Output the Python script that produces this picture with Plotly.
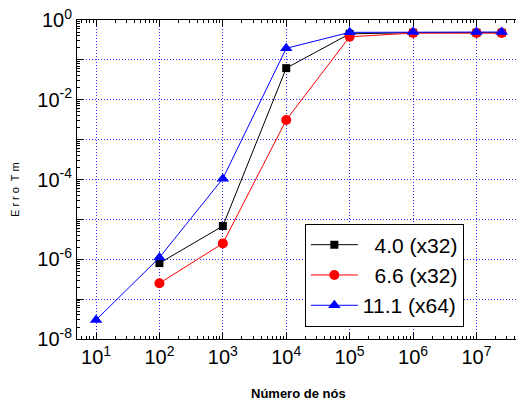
import plotly.graph_objects as go

# Data
nodes_a = [1e2, 1e3, 1e4, 1e5, 1e6, 1e7, 2.5e7]
err_a = [8.0e-7, 6.8e-6, 0.062, 0.45, 0.48, 0.48, 0.48]
nodes_b = [1e2, 1e3, 1e4, 1e5, 1e6, 1e7, 2.5e7]
err_b = [2.5e-7, 2.5e-6, 0.0031, 0.38, 0.47, 0.47, 0.47]
nodes_c = [1e1, 1e2, 1e3, 1e4, 1e5, 1e6, 1e7, 2.5e7]
err_c = [3.0e-8, 1.1e-6, 1.05e-4, 0.195, 0.49, 0.50, 0.50, 0.50]
names = ["\u20074.0 (x32)", "\u20076.6 (x32)", "11.1 (x64)"]

x_tickvals = [1e1, 1e2, 1e3, 1e4, 1e5, 1e6, 1e7]
x_ticktext = ["10<sup>%d</sup>" % k for k in range(1, 8)]
y_tickvals = [10.0 ** -k for k in range(0, 9)]
y_ticktext = [("10<sup>-%d</sup>" % k if k > 0 else "10<sup>0</sup>") if k % 2 == 0 else "" for k in range(0, 9)]

fig = go.Figure()
fig.add_trace(go.Scatter(x=nodes_a, y=err_a, name=names[0], mode="lines+markers",
                         line=dict(color="black", width=1),
                         marker=dict(symbol="square", size=8, color="black")))
fig.add_trace(go.Scatter(x=nodes_b, y=err_b, name=names[1], mode="lines+markers",
                         line=dict(color="#ff0000", width=1),
                         marker=dict(symbol="circle", size=10, color="#ff0000")))
fig.add_trace(go.Scatter(x=nodes_c, y=err_c, name=names[2], mode="lines+markers",
                         line=dict(color="#0000ff", width=1),
                         marker=dict(symbol="triangle-up", size=11, color="#0000ff")))

grid_color = "#2a2aff"
grid_dash = "1px,2px"
fig.update_layout(
    width=516, height=403, autosize=False,
    margin=dict(l=77, r=0, t=20, b=64),
    paper_bgcolor="white", plot_bgcolor="white",
    font=dict(family="Liberation Sans, Arial, sans-serif", color="black"),
    showlegend=True,
    legend=dict(x=0.519, y=0.362, xanchor="left", yanchor="top",
                bordercolor="black", borderwidth=1, bgcolor="white",
                itemwidth=47,
                font=dict(size=21, color="black"), tracegroupgap=0),
    xaxis=dict(type="log", range=[0.7, 7.624], tickmode="array",
               tickvals=x_tickvals, ticktext=x_ticktext, automargin=False,
               tickfont=dict(size=20), ticks="inside", ticklen=6, tickcolor="black",
               showline=True, linecolor="black", linewidth=1, mirror="ticks",
               showgrid=True, gridcolor=grid_color, griddash=grid_dash, gridwidth=1,
               zeroline=False,
               minor=dict(ticks="inside", ticklen=3, tickcolor="black", dtick="D1", showgrid=False)),
    yaxis=dict(type="log", range=[-8, 0], tickmode="array",
               tickvals=y_tickvals, ticktext=y_ticktext, automargin=False,
               tickfont=dict(size=20), ticks="inside", ticklen=6, tickcolor="black",
               showline=True, linecolor="black", linewidth=1, mirror=False,
               showgrid=True, gridcolor=grid_color, griddash=grid_dash, gridwidth=1,
               zeroline=False,
               minor=dict(ticks="inside", ticklen=3, tickcolor="black", dtick="D1", showgrid=False)),
)

fig.add_annotation(text="E r r o  T m", xref="paper", yref="paper",
                   x=-77 / 439 + 15 / 439, y=(339 - 190) / 319, textangle=-90,
                   showarrow=False, font=dict(size=11, color="black"),
                   xanchor="center", yanchor="middle")
fig.add_annotation(text="<b>Número de nós</b>", xref="paper", yref="paper",
                   x=(298 - 77) / 439, y=-(393 - 339) / 319,
                   showarrow=False, font=dict(size=13, color="black"),
                   xanchor="center", yanchor="middle")

fig.write_html("out.html", config={"displayModeBar": False},
               post_script="document.body.style.margin='0';document.body.style.overflow='hidden';")
